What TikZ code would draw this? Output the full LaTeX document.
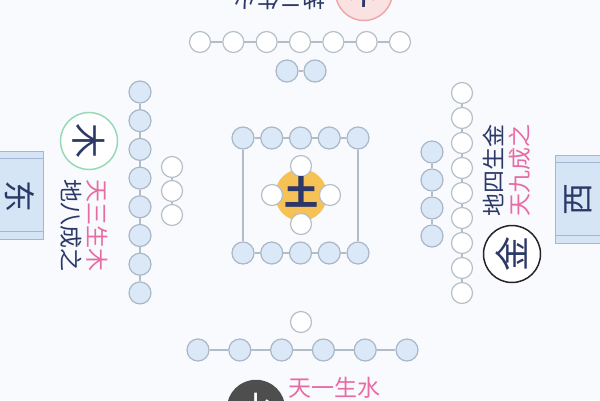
\documentclass[tikz,border=0pt]{standalone}
\usepackage{fontspec}
\newfontfamily\cjk{Noto Sans CJK SC}
\definecolor{bgc}{HTML}{F8FAFD}
\definecolor{dotblue}{HTML}{DAE8F8}
\definecolor{dotedge}{HTML}{A9B7C7}
\definecolor{wedge}{HTML}{B7BFC7}
\definecolor{connc}{HTML}{B3BDC8}
\definecolor{navy}{HTML}{2C3868}
\definecolor{pinkt}{HTML}{E86CA4}
\definecolor{greenc}{HTML}{98D9B6}
\definecolor{firef}{HTML}{FBE2E2}
\definecolor{firee}{HTML}{EDA9A9}
\definecolor{waterf}{HTML}{4E4E4E}
\definecolor{earth}{HTML}{F6C256}
\definecolor{boxf}{HTML}{D6E5F6}
\definecolor{boxe}{HTML}{A3B8D0}
\begin{document}
\begin{tikzpicture}[x=1pt,y=-1pt,
  bdot/.style={circle,draw=dotedge,fill=dotblue,line width=1.2pt,minimum size=22pt,inner sep=0pt},
  wdot/.style={circle,draw=wedge,fill=white,line width=1.2pt,minimum size=21pt,inner sep=0pt},
  conn/.style={draw=connc,line width=1.2pt},
  big/.style={circle,minimum size=57pt,inner sep=0pt,line width=1.5pt,font=\cjk\fontsize{35}{35}\selectfont},
  lbl/.style={font=\cjk\fontsize{23}{23}\selectfont,inner sep=0pt},
  dirbox/.style={rectangle,draw=boxe,fill=boxf,line width=1pt,minimum width=45pt,minimum height=88pt,inner sep=0pt},
  dirtxt/.style={font=\cjk\fontsize{32}{32}\selectfont,text=navy,inner sep=0pt},
  boxline/.style={draw=boxe,line width=1pt}]
\fill[bgc] (0,0) rectangle (600,400);
\useasboundingbox (0,0) rectangle (600,400);

% ---------- top (fire) ----------
\foreach \i in {1,...,7} \node[wdot] (t\i) at ({200+(\i-1)*33.33},42) {};
\foreach \i [evaluate=\i as \j using int(\i+1)] in {1,...,6} \draw[conn] (t\i) -- (t\j);
\node[bdot] (u1) at (287,71) {};
\node[bdot] (u2) at (315,71) {};
\draw[conn] (u1) -- (u2);
\node[big,draw=firee,fill=firef,text=navy,rotate=180] (fire) at (364,-8) {火};
\node[lbl,text=navy,rotate=180] (firelbl) at (279,-1) {地二生火};

% ---------- left (wood) ----------
\foreach \i in {1,...,8} \node[bdot] (l\i) at (140,{92+(\i-1)*28.7}) {};
\foreach \i [evaluate=\i as \j using int(\i+1)] in {1,...,7} \draw[conn] (l\i) -- (l\j);
\foreach \i in {1,...,3} \node[wdot] (m\i) at (172,{167+(\i-1)*24}) {};
\foreach \i [evaluate=\i as \j using int(\i+1)] in {1,...,2} \draw[conn] (m\i) -- (m\j);
\node[big,draw=greenc,fill=white,text=navy,rotate=-90] (wood) at (89,141) {木};
\node[lbl,text=pinkt,rotate=-90] (woodl1) at (97,225) {天三生木};
\node[lbl,text=navy,rotate=-90] (woodl2) at (71,225) {地八成之};
\node[dirbox] (east) at (21,195) {};
\path (east.north west) ++(0,8) coordinate (ea1);
\path (east.north east) ++(0,8) coordinate (ea2);
\path (east.south west) ++(0,-8) coordinate (eb1);
\path (east.south east) ++(0,-8) coordinate (eb2);
\draw[boxline] (ea1) -- (ea2);
\draw[boxline] (eb1) -- (eb2);
\node[dirtxt,rotate=-90] (eastt) at (20,196) {东};

% ---------- right (metal) ----------
\foreach \i in {1,...,4} \node[bdot] (r\i) at (432,{152+(\i-1)*28}) {};
\foreach \i [evaluate=\i as \j using int(\i+1)] in {1,...,3} \draw[conn] (r\i) -- (r\j);
\foreach \i in {1,...,9} \node[wdot] (s\i) at (462,{93+(\i-1)*25}) {};
\foreach \i [evaluate=\i as \j using int(\i+1)] in {1,...,8} \draw[conn] (s\i) -- (s\j);
\node[big,draw=black!85,fill=white,text=navy,rotate=90] (metal) at (512,254) {金};
\node[lbl,text=navy,rotate=90] (metall1) at (493,170) {地四生金};
\node[lbl,text=pinkt,rotate=90] (metall2) at (520,170) {天九成之};
\node[dirbox] (west) at (578,199) {};
\path (west.north west) ++(0,8) coordinate (wa1);
\path (west.north east) ++(0,8) coordinate (wa2);
\path (west.south west) ++(0,-8) coordinate (wb1);
\path (west.south east) ++(0,-8) coordinate (wb2);
\draw[boxline] (wa1) -- (wa2);
\draw[boxline] (wb1) -- (wb2);
\node[dirtxt,rotate=90] (westt) at (578,199) {西};

% ---------- bottom (water) ----------
\node[wdot] (w0) at (301,322) {};
\foreach \i in {1,...,6} \node[bdot] (b\i) at ({198+(\i-1)*41.8},350) {};
\foreach \i [evaluate=\i as \j using int(\i+1)] in {1,...,5} \draw[conn] (b\i) -- (b\j);
\node[big,draw=waterf,fill=waterf,text=white] (water) at (256,409) {水};
\node[lbl,text=pinkt] (waterl) at (334,388) {天一生水};

% ---------- center (earth) ----------
\foreach \i in {1,...,5} \node[bdot] (c\i) at ({243+(\i-1)*28.75},138) {};
\foreach \i in {1,...,5} \node[bdot] (d\i) at ({243+(\i-1)*28.75},253) {};
\foreach \i [evaluate=\i as \j using int(\i+1)] in {1,...,4} {\draw[conn] (c\i) -- (c\j); \draw[conn] (d\i) -- (d\j);}
\draw[conn] (c1) -- (d1);
\draw[conn] (c5) -- (d5);
\fill[earth] (301,195) circle (26);
\node[wdot] (e1) at (301,166) {};
\node[wdot] (e2) at (272,195) {};
\node[wdot] (e3) at (330,195) {};
\node[wdot] (e4) at (301,224) {};
\node[font=\cjk\bfseries\fontsize{34}{34}\selectfont,text=navy,inner sep=0pt] (earthc) at (301,192) {土};
\end{tikzpicture}
\end{document}
